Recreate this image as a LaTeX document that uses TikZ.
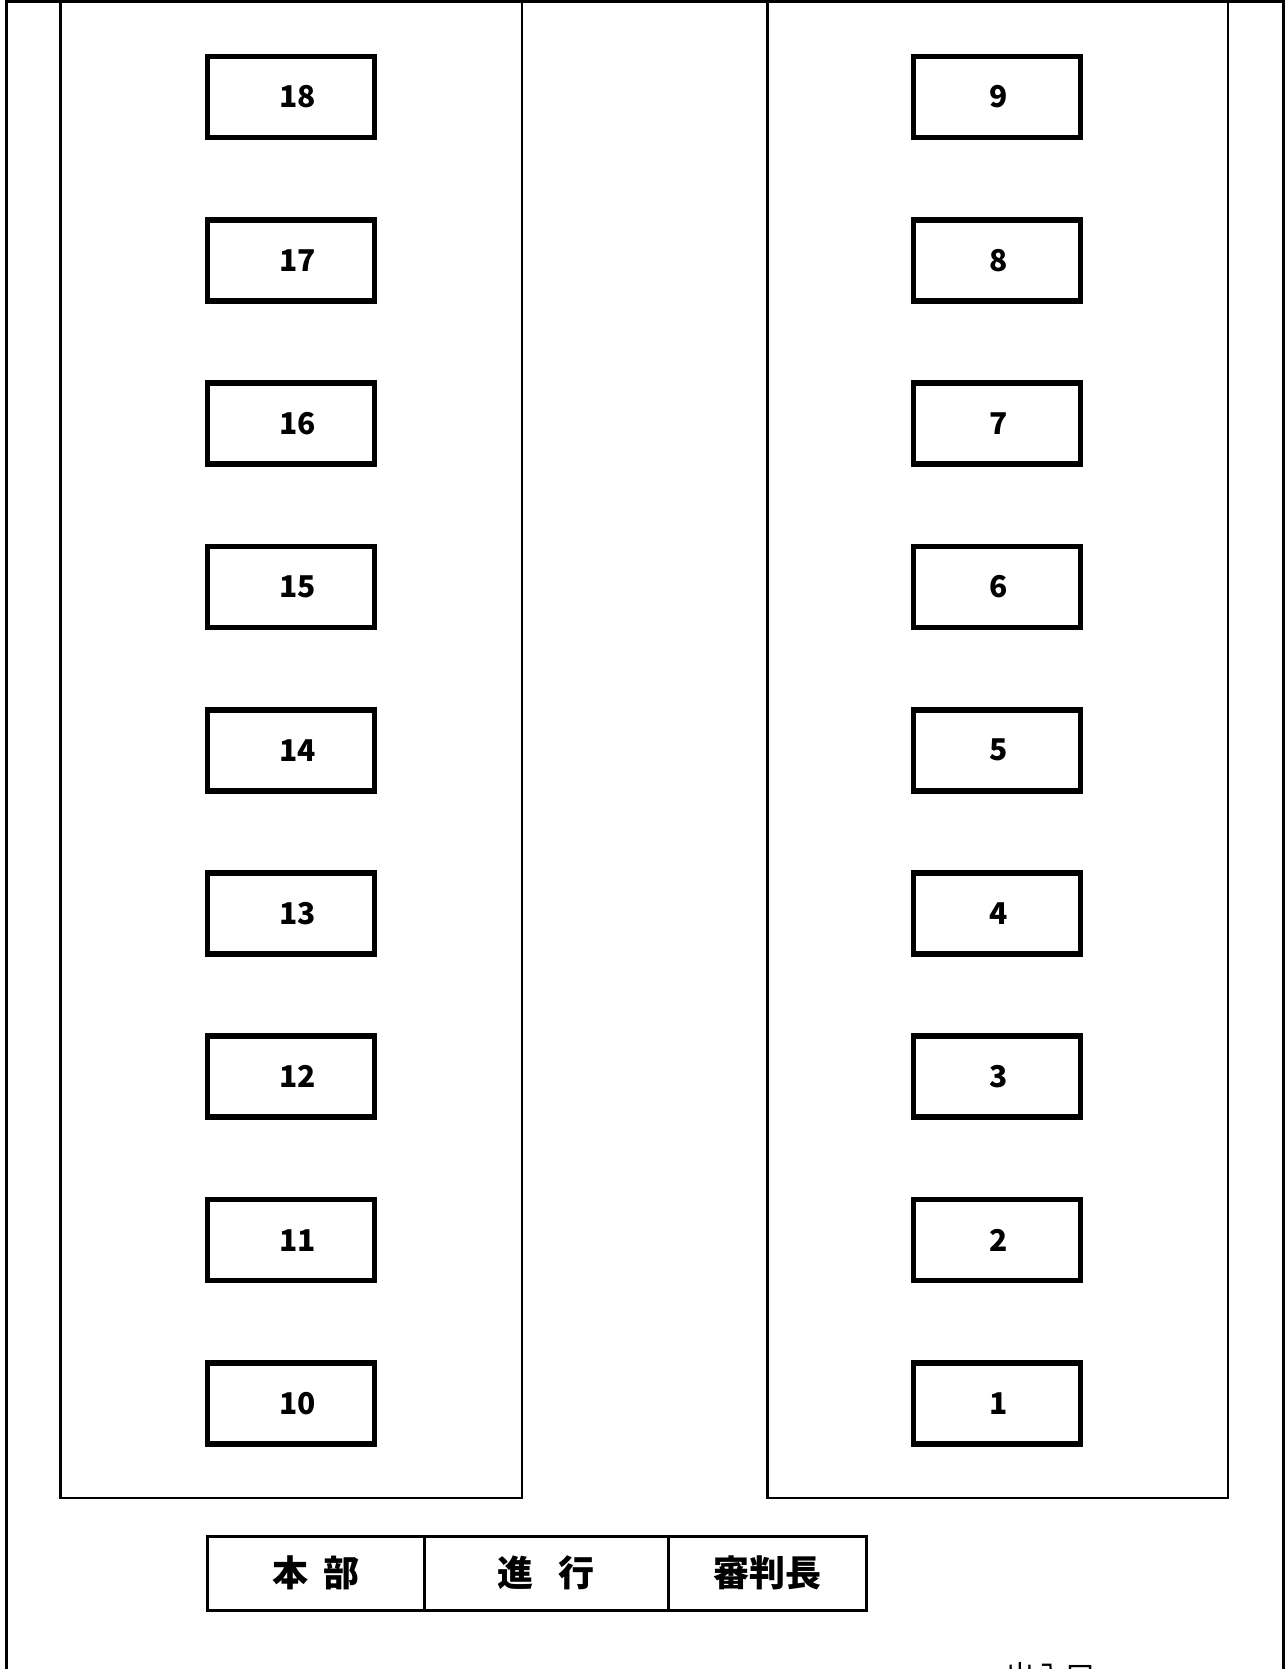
\documentclass[tikz,border=0pt]{standalone}
\usepackage{fontspec}
\setmainfont{Noto Sans CJK JP}
\begin{document}
\begin{tikzpicture}[x=1pt,y=-1pt,
  seat/.style={draw, line width=5.7pt, minimum width=167pt, minimum height=81pt, inner sep=0pt, font=\fontsize{30}{30}\selectfont\bfseries},
  cell/.style={draw, line width=3pt, minimum height=74pt, inner sep=0pt, font=\fontsize{36}{36}\selectfont\bfseries},
  wall/.style={line width=3pt},
  lane/.style={line width=2.8pt}]
\useasboundingbox (0,0) rectangle (1287,1669);
% outer frame
\draw[wall] (6,1680) -- (6,1.5) -- (1283,1.5) -- (1283,1680);
% lanes
\draw[lane] (60.5,0) -- (60.5,1498) -- (522,1498) -- (522,0);
\draw[lane] (767.5,0) -- (767.5,1498) -- (1228,1498) -- (1228,0);
% seats
\foreach \i in {0,...,8}{
  \pgfmathtruncatemacro{\r}{9-\i}
  \pgfmathtruncatemacro{\l}{18-\i}
  \node[seat] (b\r) at (997,{97+163.3*\i}) {\hspace*{4pt}\r};
  \node[seat] (b\l) at (291,{97+163.3*\i}) {\hspace*{13pt}\l};
}
% table
\node[cell, minimum width=216.3pt] (t1) at (316,1573) {本\hspace{0.42em}部};
\node[cell, minimum width=244pt] (t2) at (546,1573) {進\hspace{0.72em}行};
\node[cell, minimum width=198pt] (t3) at (767,1573) {審判長};
% exit
\node[font=\fontsize{30}{30}\selectfont, inner sep=0pt] (exit) at (1050,1676) {出入口};
\end{tikzpicture}
\end{document}
